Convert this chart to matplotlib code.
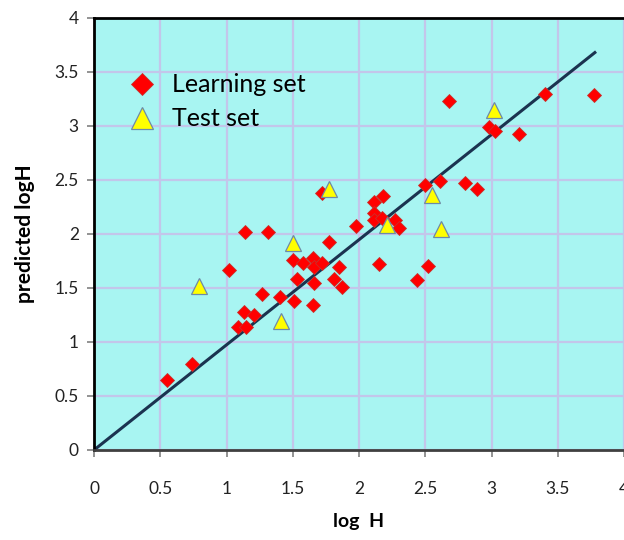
import matplotlib
matplotlib.use('Agg')
import matplotlib.pyplot as plt

# log H vs predicted log H, learning set (red diamonds)
learn_x = [0.55, 0.74, 1.02, 1.09, 1.15, 1.13, 1.21, 1.14, 1.27, 1.31, 1.40, 1.50,
           1.51, 1.53, 1.58, 1.65, 1.66, 1.65, 1.66, 1.72, 1.72, 1.77, 1.81, 1.85,
           1.87, 1.98, 2.11, 2.11, 2.11, 2.17, 2.18, 2.15, 2.27, 2.30, 2.44, 2.50,
           2.52, 2.61, 2.68, 2.80, 2.89, 2.98, 3.03, 3.21, 3.40, 3.77]
learn_y = [0.65, 0.80, 1.67, 1.14, 1.14, 1.28, 1.25, 2.02, 1.44, 2.02, 1.42, 1.76,
           1.38, 1.58, 1.73, 1.78, 1.69, 1.34, 1.55, 1.73, 2.38, 1.93, 1.58, 1.69,
           1.51, 2.07, 2.30, 2.19, 2.13, 2.15, 2.35, 1.72, 2.13, 2.06, 1.57, 2.45,
           1.70, 2.49, 3.23, 2.47, 2.42, 2.99, 2.95, 2.93, 3.30, 3.29]

# test set (yellow triangles)
test_x = [0.79, 1.41, 1.50, 1.77, 2.21, 2.55, 2.62, 3.02]
test_y = [1.52, 1.19, 1.92, 2.42, 2.08, 2.36, 2.05, 3.15]

# regression line end points
line_x = [0.0, 3.78]
line_y = [0.0, 3.68]

ticks = [0, 0.5, 1, 1.5, 2, 2.5, 3, 3.5, 4]
tick_labels = ['0', '0.5', '1', '1.5', '2', '2.5', '3', '3.5', '4']

plt.rcParams['font.family'] = ['Lato', 'DejaVu Sans']

fig = plt.figure(figsize=(6.24, 5.4), dpi=100)
ax = fig.add_axes([94 / 624, 90 / 540, 530 / 624, 432 / 540])
ax.set_facecolor('#a8f5f2')

ax.plot(line_x, line_y, color='#1b3350', lw=2.2, zorder=2)
ax.plot(learn_x, learn_y, 'D', ms=7.5, mfc='#ff0000', mec='#c8302c', mew=0.6,
        ls='none', label='Learning set', zorder=3)
ax.plot(test_x, test_y, '^', ms=11, mfc='#ffff00', mec='#6d8aa8', mew=0.9,
        ls='none', label='Test set', zorder=4)

ax.set_xlim(0, 4)
ax.set_ylim(0, 4)
ax.set_xticks(ticks)
ax.set_xticklabels(tick_labels)
ax.set_yticks(ticks)
ax.set_yticklabels(tick_labels)
ax.grid(True, color='#c3c6ea', lw=1.6)
ax.set_axisbelow(True)

for s in ['left', 'top']:
    ax.spines[s].set_linewidth(2)
    ax.spines[s].set_color('black')
ax.spines['bottom'].set_linewidth(2)
ax.spines['bottom'].set_color('#404040')
ax.spines['right'].set_visible(False)

ax.tick_params(axis='x', direction='out', length=5, width=1.2, color='#808080',
               labelsize=12.5, pad=17, labelcolor='#222222')
ax.tick_params(axis='y', direction='out', length=5, width=1.2, color='#808080',
               labelsize=12.5, pad=6, labelcolor='#222222')

ax.set_xlabel('log  H', fontsize=14, fontweight='bold', labelpad=12)
ax.set_ylabel('predicted logH', fontsize=15, fontweight='bold', labelpad=14)

ax.legend(loc='upper left', bbox_to_anchor=(0.015, 0.924), frameon=False,
          fontsize=18, handlelength=1.4, handletextpad=0.5, labelspacing=0.44,
          borderpad=0.4, numpoints=1, markerscale=1.5)

fig.savefig('out.png', dpi=100)
